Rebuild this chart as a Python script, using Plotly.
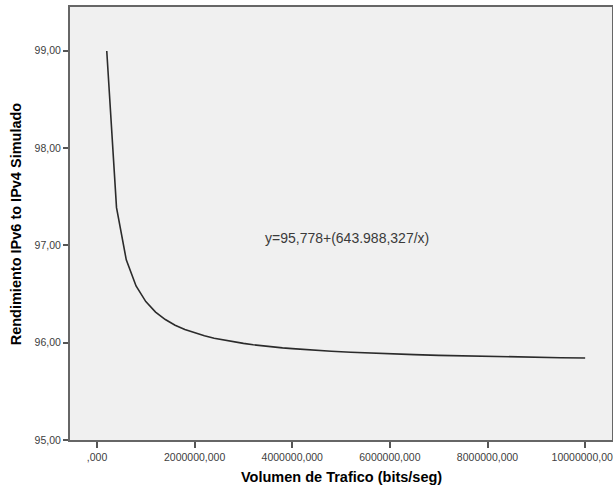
import plotly.graph_objects as go

# Traffic volume (bits/seg) and simulated IPv6-to-IPv4 performance
traffic = [200000, 400000, 600000, 800000, 1000000, 1200000, 1400000, 1600000,
           1800000, 2000000, 2200000, 2400000, 2600000, 2800000, 3000000, 3200000,
           3400000, 3600000, 3800000, 4000000, 4400000, 4800000, 5200000, 5600000,
           6000000, 6500000, 7000000, 7500000, 8000000, 8500000, 9000000, 9500000,
           10000000]
performance = [98.998, 97.388, 96.851, 96.583, 96.422, 96.315, 96.238, 96.180,
               96.136, 96.100, 96.071, 96.046, 96.026, 96.008, 95.993, 95.979,
               95.967, 95.957, 95.947, 95.939, 95.924, 95.912, 95.902, 95.893,
               95.885, 95.877, 95.870, 95.864, 95.859, 95.854, 95.850, 95.846,
               95.842]

x_tickvals = [0, 2000000, 4000000, 6000000, 8000000, 10000000]
x_ticktext = [",000", "2000000,000", "4000000,000", "6000000,000", "8000000,000", "10000000,000"]
y_tickvals = [95, 96, 97, 98, 99]
y_ticktext = ["95,00", "96,00", "97,00", "98,00", "99,00"]
equation = "y=95,778+(643.988,327/x)"
x_title = "Volumen de Trafico (bits/seg)"
y_title = "Rendimiento IPv6 to IPv4 Simulado"

fig = go.Figure()
fig.add_trace(go.Scatter(x=traffic, y=performance, mode="lines",
                         line=dict(color="#2b2b2b", width=1.6), showlegend=False,
                         hoverinfo="skip"))

fig.add_annotation(x=5120000, y=97.08, text=equation, showarrow=False,
                   font=dict(family="Liberation Sans, Arial", size=14, color="#3a3a3a"))

title_font = dict(family="Liberation Sans, Arial", size=14.5, color="#000000")
fig.add_annotation(xref="paper", yref="paper", x=0.5, y=-0.086, yanchor="middle",
                   text="<b>" + x_title + "</b>", showarrow=False, font=title_font,
                   borderpad=0)
fig.add_annotation(xref="paper", yref="paper", x=-0.1, y=0.5, xanchor="center",
                   textangle=-90, text="<b>" + y_title + "</b>", showarrow=False,
                   font=title_font)

axis_font = dict(family="Liberation Sans, Arial", size=10.5, color="#404040")

fig.update_layout(
    width=613, height=486,
    margin=dict(l=70, r=1, t=7, b=46),
    paper_bgcolor="white",
    plot_bgcolor="#f0f0f0",
    xaxis=dict(range=[-553000, 10550000], tickvals=x_tickvals, ticktext=x_ticktext,
               ticks="outside", ticklen=6, tickwidth=1.5, tickcolor="#555555",
               showgrid=False, zeroline=False, showline=True, linecolor="#666666",
               linewidth=2, mirror=True, tickfont=axis_font, automargin=False,
               ticklabeloverflow="allow"),
    yaxis=dict(range=[95, 99.45], tickvals=y_tickvals, ticktext=y_ticktext,
               ticks="outside", ticklen=5, tickwidth=1.5, tickcolor="#555555",
               showgrid=False, zeroline=False, showline=True, linecolor="#666666",
               linewidth=2, mirror=True, tickfont=axis_font, automargin=False),
)

fig.write_html("out.html", config={"displayModeBar": False},
               post_script="document.body.style.margin='0';document.body.style.overflow='hidden';")
